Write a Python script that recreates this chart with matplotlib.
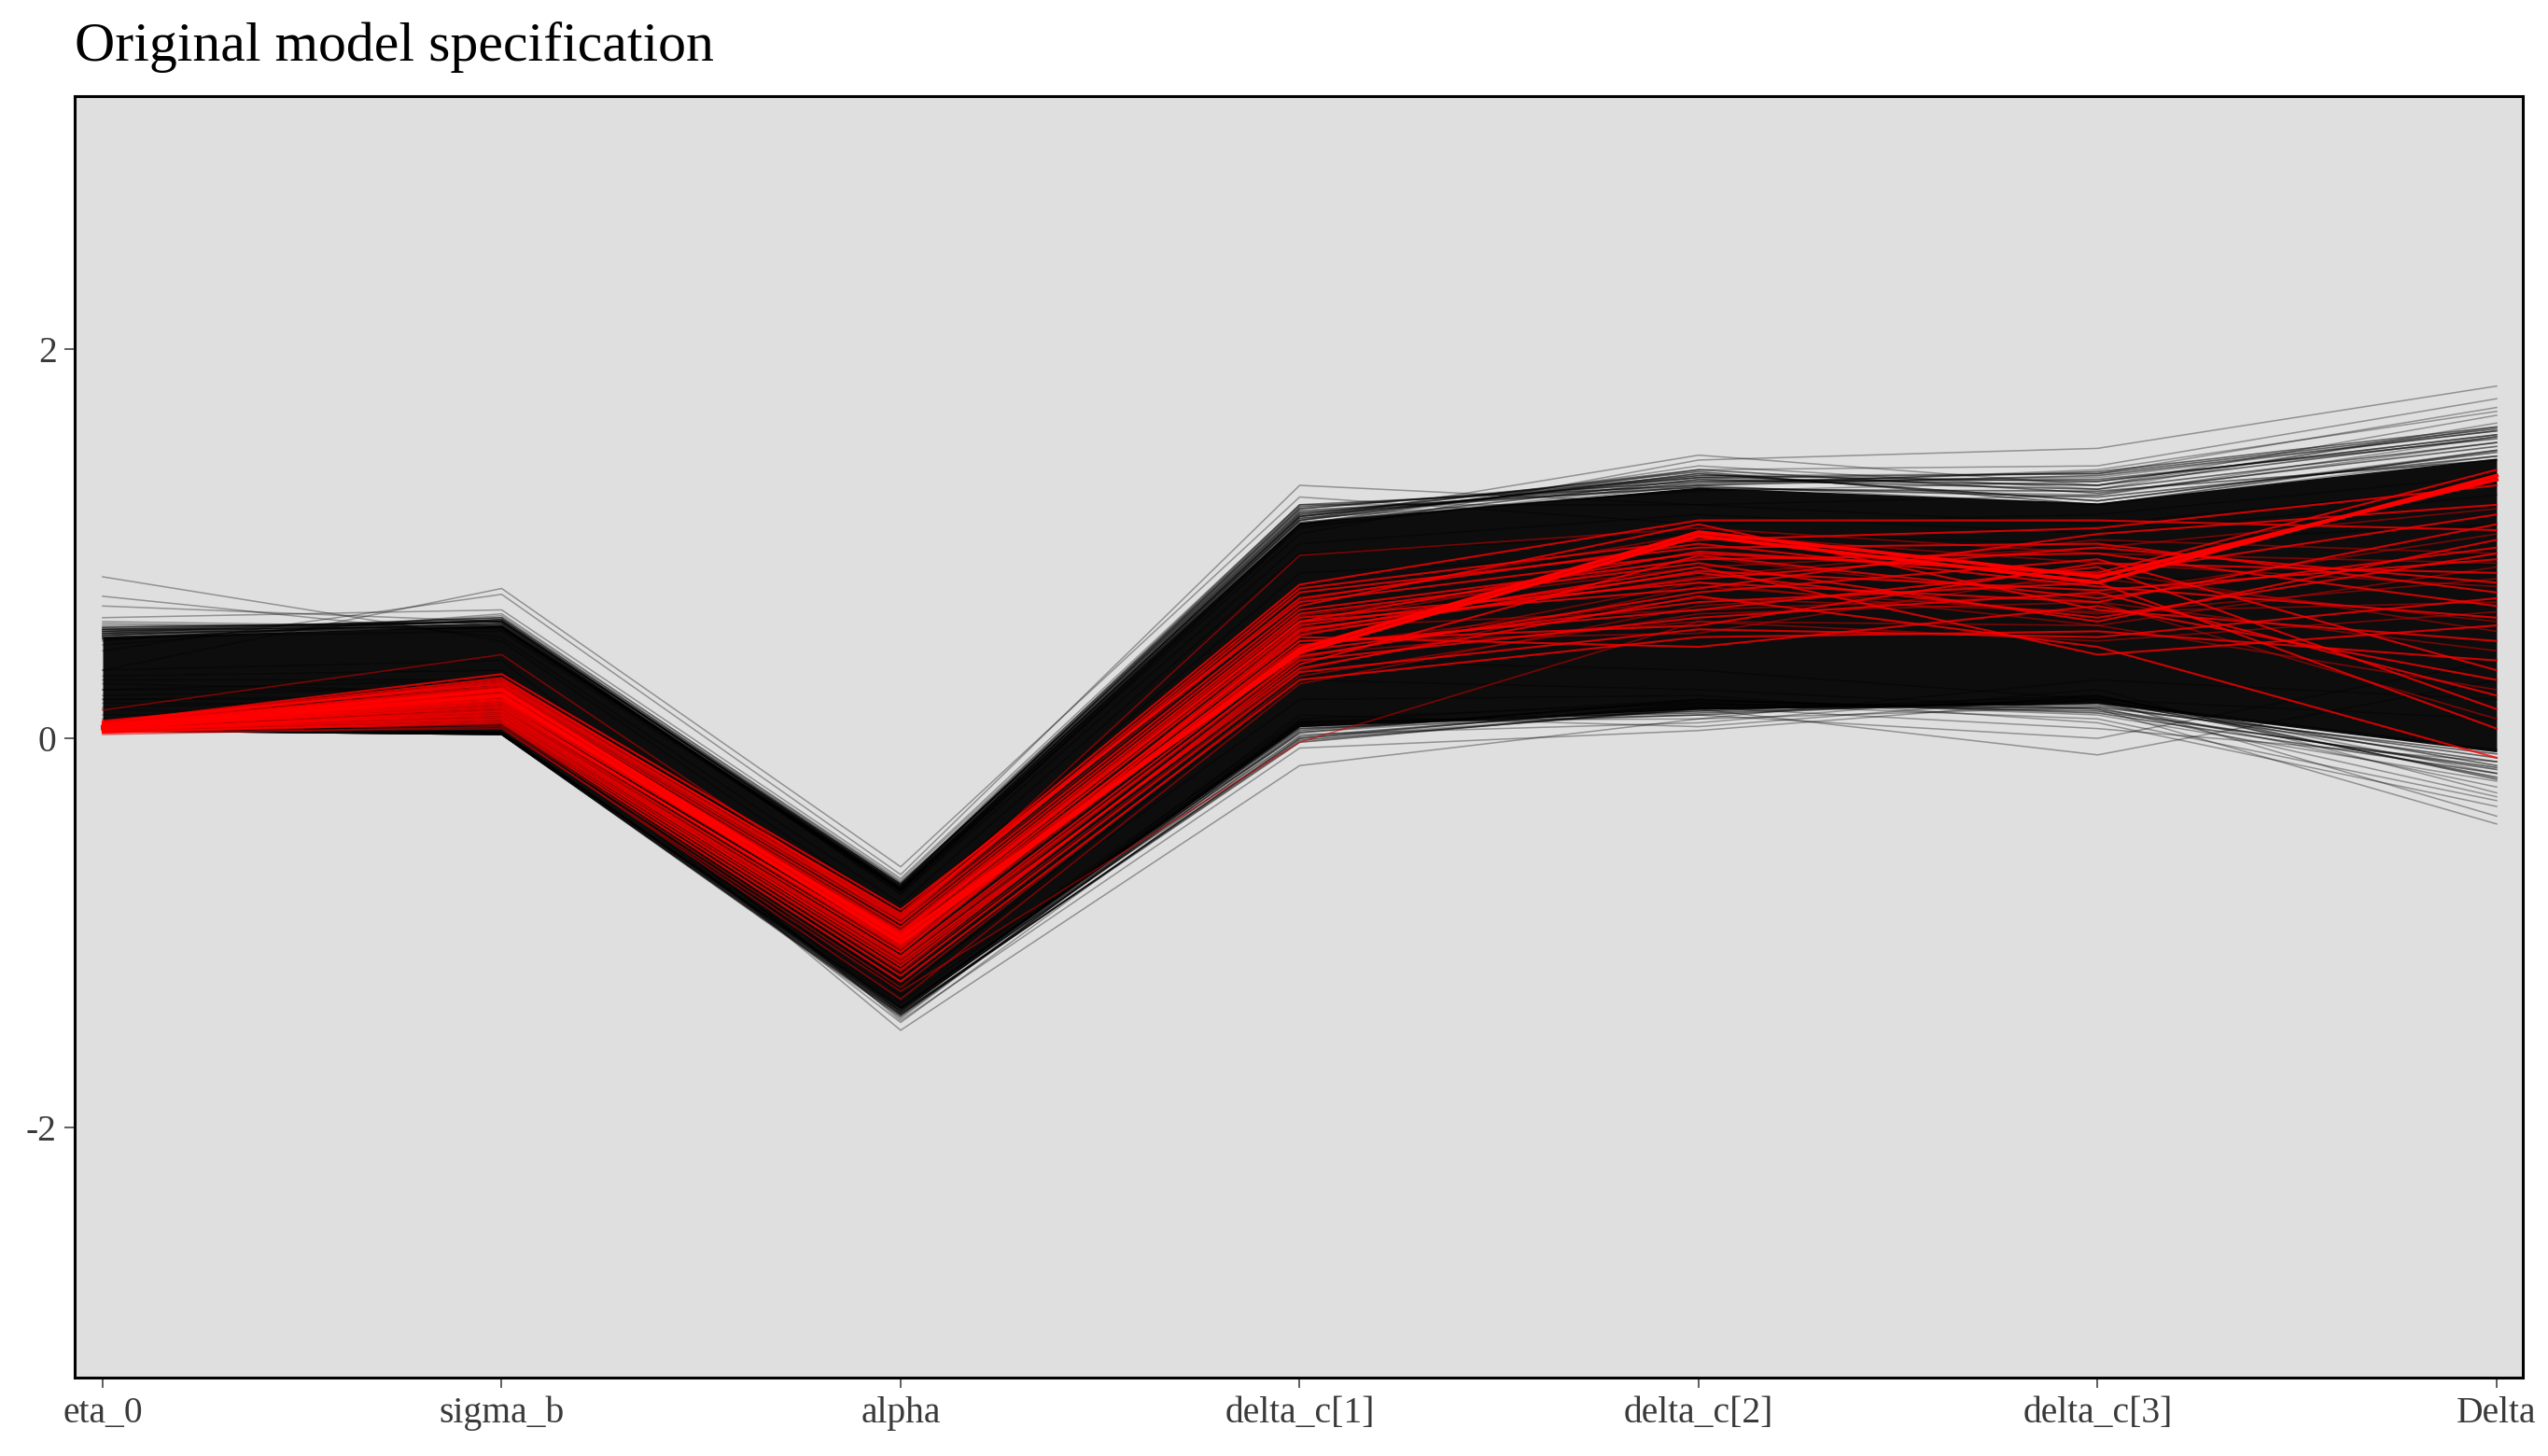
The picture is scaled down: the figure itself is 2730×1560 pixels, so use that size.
import matplotlib

matplotlib.use("Agg")
import matplotlib.pyplot as plt

# parameter axes of the parallel-coordinates plot
params = ["eta_0", "sigma_b", "alpha", "delta_c[1]", "delta_c[2]", "delta_c[3]", "Delta"]

# dense (solid black) part of the draws
core_upper = [0.52, 0.58, -0.77, 1.11, 1.29, 1.21, 1.44]
core_lower = [0.04, 0.02, -1.39, 0.06, 0.15, 0.18, -0.07]

# draws just outside the solid band (the dark fuzzy edge)
edge_upper = [
    [0.55, 0.60, -0.76, 1.18, 1.34, 1.30, 1.55],
    [0.52, 0.58, -0.77, 1.14, 1.38, 1.26, 1.50],
    [0.54, 0.62, -0.75, 1.20, 1.30, 1.35, 1.58],
    [0.53, 0.59, -0.78, 1.12, 1.36, 1.22, 1.47],
    [0.56, 0.57, -0.76, 1.16, 1.31, 1.37, 1.60],
    [0.51, 0.61, -0.77, 1.10, 1.33, 1.28, 1.52],
    [0.57, 0.60, -0.75, 1.17, 1.29, 1.24, 1.45],
    [0.52, 0.59, -0.78, 1.13, 1.35, 1.32, 1.56],
    [0.55, 0.58, -0.77, 1.15, 1.37, 1.20, 1.48],
    [0.53, 0.61, -0.76, 1.19, 1.32, 1.33, 1.54],
    [0.54, 0.57, -0.78, 1.11, 1.28, 1.27, 1.43],
    [0.56, 0.60, -0.77, 1.14, 1.34, 1.36, 1.59],
]
edge_lower = [
    [0.05, 0.03, -1.40, 0.05, 0.15, 0.18, -0.10],
    [0.04, 0.02, -1.42, 0.00, 0.18, 0.14, -0.15],
    [0.05, 0.03, -1.39, 0.08, 0.13, 0.20, -0.20],
    [0.04, 0.02, -1.41, -0.02, 0.16, 0.16, -0.08],
    [0.05, 0.03, -1.40, 0.03, 0.20, 0.13, -0.18],
    [0.04, 0.02, -1.43, 0.06, 0.14, 0.22, -0.21],
    [0.05, 0.03, -1.39, 0.01, 0.17, 0.17, -0.12],
    [0.04, 0.02, -1.42, 0.04, 0.19, 0.15, -0.16],
    [0.05, 0.03, -1.41, -0.01, 0.15, 0.19, -0.06],
    [0.04, 0.02, -1.40, 0.07, 0.12, 0.21, -0.14],
]

# individual non-divergent draws sticking further out (upper side)
draws_upper = [
    [0.83, 0.50, -0.90, 0.85, 0.95, 0.80, 0.90],
    [0.73, 0.52, -0.85, 0.95, 1.05, 1.00, 1.10],
    [0.68, 0.60, -0.80, 1.00, 1.15, 1.05, 1.25],
    [0.62, 0.66, -0.72, 1.20, 1.20, 1.25, 1.55],
    [0.58, 0.58, -0.75, 1.15, 1.30, 1.20, 1.45],
    [0.35, 0.77, -0.66, 1.24, 1.10, 1.15, 1.35],
    [0.45, 0.74, -0.70, 1.30, 1.20, 1.10, 1.30],
    [0.55, 0.62, -0.74, 1.12, 1.455, 1.30, 1.60],
    [0.52, 0.55, -0.78, 1.05, 1.43, 1.49, 1.81],
    [0.57, 0.60, -0.76, 1.10, 1.38, 1.40, 1.745],
    [0.50, 0.63, -0.73, 1.18, 1.35, 1.36, 1.70],
    [0.60, 0.57, -0.77, 1.14, 1.33, 1.30, 1.66],
    [0.48, 0.64, -0.74, 1.10, 1.40, 1.28, 1.62],
    [0.53, 0.59, -0.79, 1.08, 1.32, 1.34, 1.58],
    [0.56, 0.61, -0.75, 1.16, 1.29, 1.25, 1.52],
    [0.51, 0.58, -0.77, 1.12, 1.36, 1.22, 1.48],
    [0.54, 0.60, -0.80, 1.09, 1.30, 1.38, 1.68],
    [0.59, 0.56, -0.76, 1.13, 1.27, 1.32, 1.56],
]

# non-divergent draws on the lower side
draws_lower = [
    [0.20, 0.20, -1.50, -0.14, 0.10, 0.30, 0.20],
    [0.25, 0.25, -1.45, -0.05, 0.04, 0.20, 0.10],
    [0.10, 0.15, -1.42, 0.00, 0.15, -0.085, 0.30],
    [0.15, 0.10, -1.40, 0.05, 0.12, 0.00, 0.40],
    [0.30, 0.30, -1.30, 0.30, 0.25, 0.15, -0.44],
    [0.35, 0.40, -1.20, 0.40, 0.35, 0.20, -0.40],
    [0.20, 0.22, -1.36, 0.10, 0.18, 0.10, -0.32],
    [0.25, 0.30, -1.32, 0.02, 0.08, 0.25, -0.28],
    [0.18, 0.18, -1.44, 0.08, 0.20, 0.12, -0.22],
    [0.22, 0.26, -1.38, 0.06, 0.14, 0.18, -0.25],
    [0.28, 0.24, -1.41, 0.12, 0.06, 0.22, -0.18],
    [0.12, 0.12, -1.46, 0.03, 0.16, 0.05, -0.12],
    [0.32, 0.35, -1.28, 0.20, 0.22, 0.08, -0.35],
    [0.16, 0.20, -1.39, 0.09, 0.10, 0.16, -0.30],
]

# divergent transitions (red)
divergent = [
    [0.07, 0.30, -0.90, 0.79, 1.12, 1.12, 1.07],
    [0.04, 0.15, -1.10, 0.55, 0.88, 0.43, 0.58],
    [0.05, 0.12, -1.15, 0.36, 0.73, 0.47, -0.10],
    [0.08, 0.33, -0.88, 0.70, 0.95, 0.85, 1.38],
    [0.04, 0.10, -1.19, 0.40, 0.62, 0.75, 0.22],
    [0.06, 0.20, -1.00, 0.62, 0.80, 0.70, 1.10],
    [0.05, 0.18, -1.08, 0.50, 0.58, 0.90, 0.85],
    [0.09, 0.28, -0.93, 0.75, 0.98, 1.00, 0.75],
    [0.03, 0.08, -1.25, 0.30, 0.52, 0.55, 0.40],
    [0.06, 0.23, -1.03, 0.58, 0.85, 0.62, 0.95],
    [0.04, 0.14, -1.12, 0.45, 0.70, 0.80, 0.05],
    [0.07, 0.26, -0.97, 0.66, 0.92, 0.95, 0.68],
    [0.05, 0.16, -1.06, 0.52, 0.47, 0.68, 0.30],
    [0.08, 0.31, -0.91, 0.72, 1.00, 0.78, 0.62],
    [0.06, 0.21, -1.01, 0.60, 0.77, 1.05, 1.20],
    [0.05, 0.19, -1.04, 0.48, 0.66, 0.88, 0.15],
    [0.04, 0.11, -1.17, 0.38, 0.94, 0.72, 0.98],
    [0.07, 0.27, -0.95, 0.68, 1.10, 0.66, 0.50],
    [0.05, 0.17, -1.07, 0.56, 0.82, 0.98, 0.80],
    [0.03, 0.09, -1.22, 0.34, 0.56, 0.52, 0.72],
    [0.06, 0.24, -0.99, 0.64, 0.90, 0.60, 1.02],
    [0.04, 0.13, -1.13, 0.42, 0.75, 0.92, 0.35],
    [0.08, 0.29, -0.92, 0.77, 1.02, 1.08, 1.30],
    [0.05, 0.20, -1.03, 0.53, 0.86, 0.76, 0.92],
    [0.06, 0.22, -1.00, 0.60, 0.96, 0.84, 1.15],
]
# fainter divergent draws (appear dark red over the black band)
divergent_faint = [
    [0.145, 0.43, -0.95, 0.94, 1.08, 0.95, 0.90],
    [0.03, 0.05, -1.30, -0.02, 0.60, 0.58, 0.88],
    [0.02, 0.06, -1.34, 0.28, 0.68, 0.82, 0.60],
    [0.04, 0.07, -1.28, 0.32, 0.64, 0.70, 0.45],
    [0.05, 0.18, -1.09, 0.47, 0.72, 0.65, 0.70],
    [0.06, 0.21, -1.02, 0.57, 0.66, 0.74, 1.05],
    [0.04, 0.12, -1.14, 0.41, 0.80, 0.58, 0.25],
    [0.07, 0.25, -0.98, 0.63, 0.88, 0.98, 1.18],
    [0.05, 0.16, -1.10, 0.50, 0.54, 0.86, 0.55],
    [0.03, 0.10, -1.20, 0.35, 0.78, 0.64, 0.82],
    [0.06, 0.23, -1.01, 0.59, 0.93, 0.70, 0.10],
    [0.08, 0.28, -0.94, 0.71, 1.05, 0.90, 0.78],
    [0.04, 0.14, -1.16, 0.43, 0.60, 0.50, 0.65],
    [0.05, 0.19, -1.05, 0.54, 0.83, 1.02, 0.95],
]
# the heavy red path (several near-identical divergent draws)
divergent_main = [
    [0.06, 0.25, -1.02, 0.44, 1.04, 0.80, 1.35],
    [0.05, 0.22, -1.05, 0.46, 1.06, 0.83, 1.33],
]

x = list(range(len(params)))

fig = plt.figure(figsize=(27.3, 15.6), dpi=100)
ax = fig.add_axes([0.0293, 0.0538, 0.9608, 0.8802])
ax.set_facecolor("#dfdfdf")

ax.fill_between(x, core_lower, core_upper, color="#0d0d0d", lw=0, zorder=2)
for d in edge_upper + edge_lower:
    ax.plot(x, d, color="black", alpha=0.55, lw=1.2, zorder=3)
for d in draws_upper + draws_lower:
    ax.plot(x, d, color="black", alpha=0.35, lw=1.1, zorder=3)
for d in divergent_faint:
    ax.plot(x, d, color="#d00000", alpha=0.55, lw=1.2, zorder=4)
for d in divergent:
    ax.plot(x, d, color="red", alpha=0.8, lw=1.5, zorder=5)
for d in divergent_main:
    ax.plot(x, d, color="red", lw=2.8, zorder=6)

ax.set_xlim(-0.0702, 6.0655)
ax.set_ylim(-3.285, 3.30)
ax.set_xticks(x)
ax.set_xticklabels(params)
ax.set_yticks([-2, 0, 2])
ax.set_yticklabels(["-2", "0", "2"])

serif = ["Liberation Serif", "DejaVu Serif"]
for lab in ax.get_xticklabels() + ax.get_yticklabels():
    lab.set_fontfamily(serif)
    lab.set_fontsize(28.5)
    lab.set_color("#3a3a3a")
ax.tick_params(length=8, width=1.1, color="#333333", pad=6)
for s in ax.spines.values():
    s.set_linewidth(2.2)
    s.set_color("black")

fig.text(80 / 2730, 1 - 65 / 1560, "Original model specification",
         fontsize=43, family=serif, va="baseline", ha="left")

fig.savefig("out.png", dpi=100)
